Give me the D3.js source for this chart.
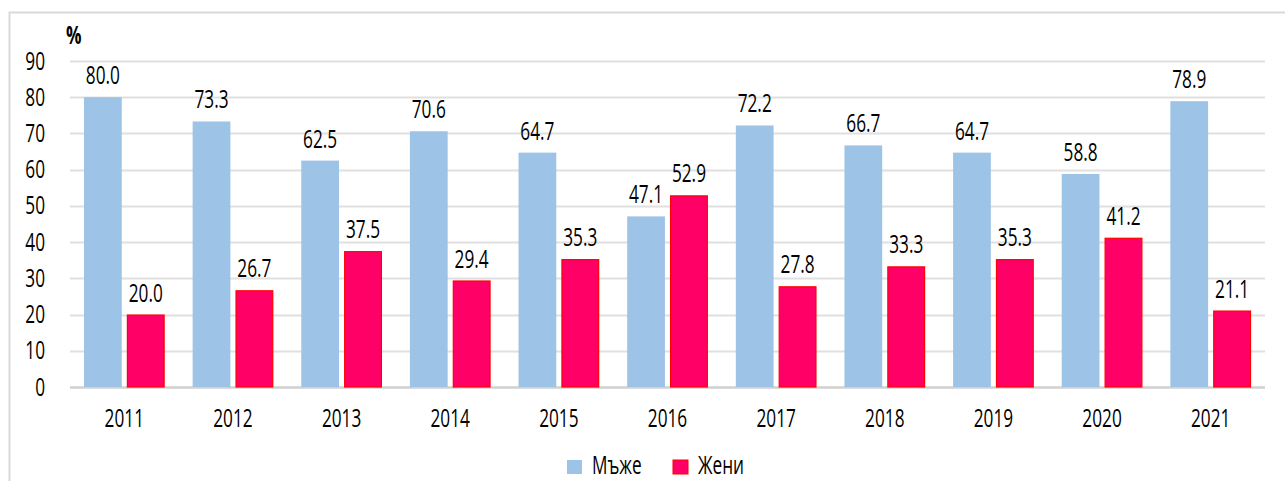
<!DOCTYPE html>
<html>
<head>
<meta charset="utf-8">
<script src="https://cdn.jsdelivr.net/npm/d3@7"></script>
<style>
  body { margin: 0; background: #fff; }
  text { font-family: "Open Sans", "DejaVu Sans Condensed", sans-serif; fill: #000; }
</style>
</head>
<body>
<div id="chart"></div>
<script>
// data
var years = ["2011","2012","2013","2014","2015","2016","2017","2018","2019","2020","2021"];
var men   = [80.0, 73.3, 62.5, 70.6, 64.7, 47.1, 72.2, 66.7, 64.7, 58.8, 78.9];
var women = [20.0, 26.7, 37.5, 29.4, 35.3, 52.9, 27.8, 33.3, 35.3, 41.2, 21.1];
var yTicks = [0, 10, 20, 30, 40, 50, 60, 70, 80, 90];
var seriesNames = ["Мъже", "Жени"];

var W = 1285, H = 481;
var margin = {top: 61, right: 20, bottom: 94, left: 70};
var width = W - margin.left - margin.right,
    height = H - margin.top - margin.bottom;
var sx = 0.69;      // squeeze text horizontally (condensed look)
var fs = "25px";

var svg = d3.select("#chart").append("svg")
    .attr("width", W)
    .attr("height", H);

// outer frame
svg.append("rect")
  .attr("x", 9.5).attr("y", 12.5)
  .attr("width", W).attr("height", H)
  .attr("fill", "none")
  .attr("stroke", "#d9d9d9")
  .attr("stroke-width", 2);

var g = svg.append("g")
  .attr("transform", "translate(" + margin.left + "," + margin.top + ")");

var x = d3.scaleBand().domain(years).range([0, width]).paddingInner(0).paddingOuter(0);
var y = d3.scaleLinear().domain([0, 90]).range([height, 0]);

var inner = d3.scaleBand().domain([0, 1]).range([14, x.bandwidth() - 14]).paddingInner(0.12);

function label(parent, px, py, txt, anchor) {
  return parent.append("text")
    .attr("transform", "translate(" + px + "," + py + ") scale(" + sx + ",1)")
    .attr("text-anchor", anchor || "middle")
    .style("font-size", fs)
    .text(txt);
}

// gridlines
g.append("g").selectAll("line")
  .data(yTicks)
  .enter().append("line")
    .attr("x1", 0).attr("x2", width)
    .attr("y1", function(d) { return Math.round(y(d)) + 0.5; })
    .attr("y2", function(d) { return Math.round(y(d)) + 0.5; })
    .attr("stroke", function(d) { return d === 0 ? "#d0d0d0" : "#e0e0e0"; })
    .attr("stroke-width", function(d) { return d === 0 ? 2.5 : 2; });

// y axis labels
var yAxis = g.append("g")
  .call(d3.axisLeft(y).tickValues(yTicks).tickSize(0).tickPadding(25));
yAxis.select(".domain").remove();
yAxis.selectAll("text")
  .style("font-size", fs).attr("fill", "#000")
  .attr("x", -25 / sx)
  .attr("transform", "scale(" + sx + ",1)");

var pct = label(g, -4, -17, "%", "start").style("font-weight", "bold");

// x axis labels
var xAxis = g.append("g")
  .attr("transform", "translate(0," + height + ")")
  .call(d3.axisBottom(x).tickSize(0).tickPadding(22));
xAxis.select(".domain").remove();
xAxis.selectAll("text")
  .style("font-size", fs).attr("fill", "#000")
  .attr("transform", "scale(" + sx + ",1)");

// bars
var groups = g.selectAll(".year")
  .data(years)
  .enter().append("g")
    .attr("transform", function(d) { return "translate(" + x(d) + ",0)"; });

groups.append("rect")
  .attr("x", inner(0))
  .attr("width", inner.bandwidth())
  .attr("y", function(d, i) { return y(men[i]); })
  .attr("height", function(d, i) { return height - y(men[i]); })
  .attr("fill", "#9dc3e6");

groups.append("rect")
  .attr("x", inner(1) + 0.5)
  .attr("width", inner.bandwidth() - 1)
  .attr("y", function(d, i) { return y(women[i]) + 0.5; })
  .attr("height", function(d, i) { return height - y(women[i]) - 0.5; })
  .attr("fill", "#ff0066")
  .attr("stroke", "#ff0000")
  .attr("stroke-width", 1.2);

// value labels
groups.each(function(d, i) {
  var grp = d3.select(this);
  label(grp, inner(0) + inner.bandwidth() / 2, y(men[i]) - 13, men[i].toFixed(1));
  label(grp, inner(1) + inner.bandwidth() / 2, y(women[i]) - 13, women[i].toFixed(1));
});

// legend
var legend = svg.append("g").attr("transform", "translate(567,460)");
var legendColors = ["#9dc3e6", "#ff0066"];
var legendX = [0, 106];
seriesNames.forEach(function(name, i) {
  legend.append("rect")
    .attr("x", legendX[i]).attr("y", 0)
    .attr("width", 15).attr("height", 14)
    .attr("fill", legendColors[i])
    .attr("stroke", i === 1 ? "#ff0000" : "none");
  label(legend, legendX[i] + 25, 14, name, "start");
});
</script>
</body>
</html>
